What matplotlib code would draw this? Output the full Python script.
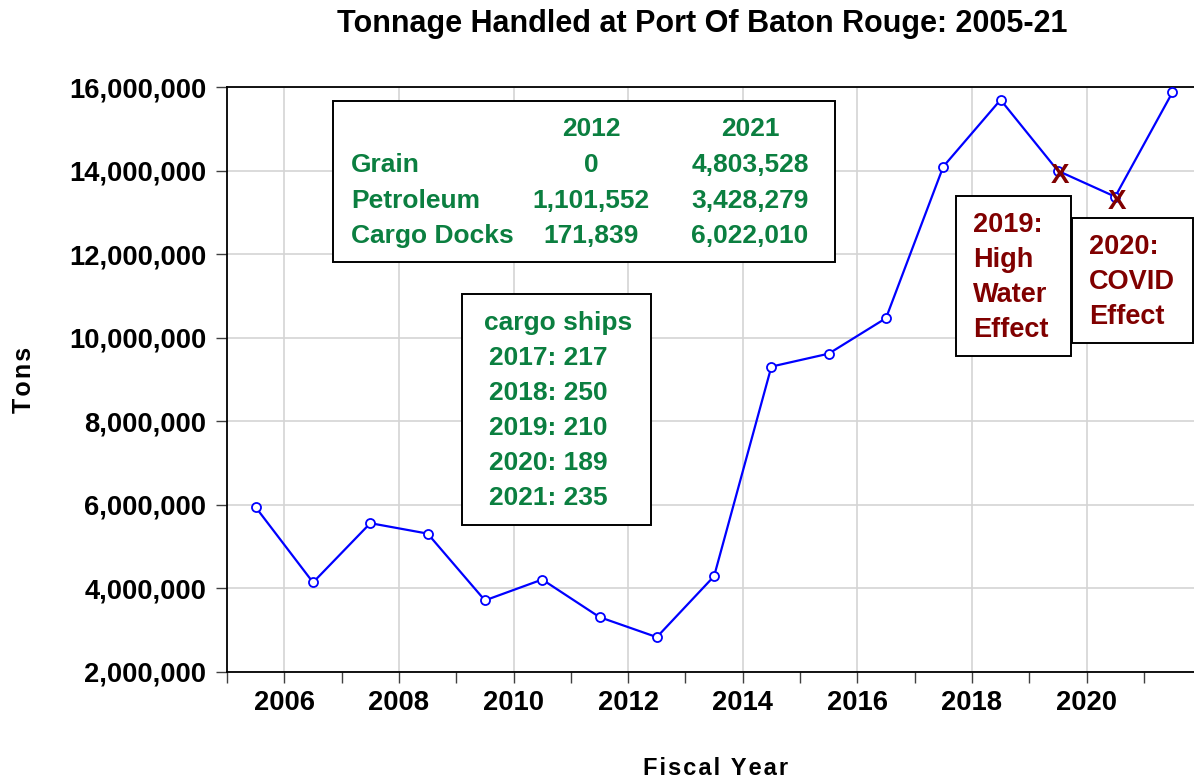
import numpy as np
import matplotlib
matplotlib.use('Agg')
import matplotlib.pyplot as plt
from matplotlib.patches import Rectangle
from matplotlib.ticker import FuncFormatter, MultipleLocator

plt.rcParams['font.family'] = ['Liberation Sans', 'DejaVu Sans']
plt.rcParams['font.weight'] = 'bold'

# data
years = np.arange(2005, 2022)
tons = [5940000, 4140000, 5560000, 5310000, 3710000, 4210000, 3310000, 2830000, 4290000,
        9310000, 9620000, 10470000, 14100000, 15700000, 14000000, 13380000, 15880000]
effect_years = [2019, 2020]

table_cols = ['2012', '2021']
table_rows = ['Grain', 'Petroleum', 'Cargo Docks']
table_2012 = ['0', '1,101,552', '171,839']
table_2021 = ['4,803,528', '3,428,279', '6,022,010']

ship_years = [2017, 2018, 2019, 2020, 2021]
ship_counts = [217, 250, 210, 189, 235]

W, H = 1194, 782
green = '#0b7f40'
darkred = '#800000'
fs = 19

fig = plt.figure(figsize=(W / 100, H / 100), dpi=100)
ax = fig.add_axes([227.1 / W, 110.2 / H, 974 / W, 584.5 / H])


def fx(px):
    return px / W


def fy(py):
    return 1 - py / H


def spaced(s):
    # EViews draws labels with loose letter spacing
    return '\u200a'.join(s)


ax.plot(years + 0.5, tons, color='#0000ff', lw=1.6, marker='o', ms=6.5,
        mfc='white', mec='#0000ff', mew=1.3, zorder=3)

# X marks on 2019 / 2020
for yr in effect_years:
    ax.text(yr + 0.5 + 0.03, tons[yr - 2005] - 120000, 'X', color=darkred, fontsize=20,
            fontweight='bold', ha='center', va='center', zorder=4)

ax.set_xlim(2005, 2022)
ax.set_ylim(2000000, 16000000)
ax.set_xticks(np.arange(2006, 2022, 2))
ax.set_xticks(np.arange(2005, 2022, 2), minor=True)
ax.yaxis.set_major_locator(MultipleLocator(2000000))
ax.yaxis.set_major_formatter(FuncFormatter(lambda v, p: '{:,.0f}'.format(v)))

ax.tick_params(axis='both', which='both', direction='out', length=8, width=1,
               color='#404040', labelsize=19.7, pad=5)
ax.tick_params(axis='y', pad=7)
ax.grid(which='major', color='#d4d4d4', lw=1.2)
ax.set_axisbelow(True)
for s in ['top', 'bottom', 'left', 'right']:
    ax.spines[s].set_linewidth(1.3)
    ax.spines[s].set_color('black')

fig.text(fx(702), fy(32), 'Tonnage Handled at Port Of Baton Rouge: 2005-21',
         ha='center', va='baseline', fontsize=22, fontweight='bold')
fig.text(fx(716), fy(775), spaced('Fiscal Year'),
         ha='center', va='baseline', fontsize=17, fontweight='bold')
fig.text(fx(24), fy(380), spaced('Tons'), ha='center', va='center', rotation=90,
         fontsize=18, fontweight='bold')


def box(x0, y0, x1, y1):
    fig.patches.append(Rectangle((fx(x0), fy(y1)), fx(x1) - fx(x0), fy(y0) - fy(y1),
                                 transform=fig.transFigure, facecolor='white',
                                 edgecolor='black', lw=1.4, zorder=5))


# top table box
box(333, 101, 835, 262)
col_x = [591, 750]
row_y = [172, 208, 243]
for cx, lab in zip(col_x, table_cols):
    fig.text(fx(cx), fy(136.5), lab, ha='center', va='baseline', color=green,
             fontsize=fs, fontweight='bold', zorder=6)
for i, lab in enumerate(table_rows):
    fig.text(fx(351), fy(row_y[i]), lab, ha='left', va='baseline', color=green,
             fontsize=fs, fontweight='bold', zorder=6)
    fig.text(fx(col_x[0]), fy(row_y[i]), table_2012[i], ha='center', va='baseline',
             color=green, fontsize=fs, fontweight='bold', zorder=6)
    fig.text(fx(col_x[1]), fy(row_y[i]), table_2021[i], ha='center', va='baseline',
             color=green, fontsize=fs, fontweight='bold', zorder=6)

# cargo ships box
box(462, 294, 651, 525)
fig.text(fx(558), fy(330), 'cargo ships', ha='center', va='baseline', color=green,
         fontsize=fs, fontweight='bold', zorder=6)
ship_base = [365, 400, 435, 470, 505]
for i, (yr, n) in enumerate(zip(ship_years, ship_counts)):
    fig.text(fx(489), fy(ship_base[i]), '{}: {}'.format(yr, n), ha='left', va='baseline',
             color=green, fontsize=fs, fontweight='bold', zorder=6)

# effect boxes
box(956, 196, 1071, 356)
for i, t in enumerate(['2019:', 'High', 'Water', 'Effect']):
    fig.text(fx(973), fy(232 + 35 * i), t, ha='left', va='baseline', color=darkred,
             fontsize=19.5, fontweight='bold', zorder=6)
box(1072, 218, 1193, 343)
for i, t in enumerate(['2020:', 'COVID', 'Effect']):
    fig.text(fx(1089), fy(253.5 + 35.5 * i), t, ha='left', va='baseline', color=darkred,
             fontsize=19.5, fontweight='bold', zorder=6)

fig.savefig('out.png', dpi=100)
